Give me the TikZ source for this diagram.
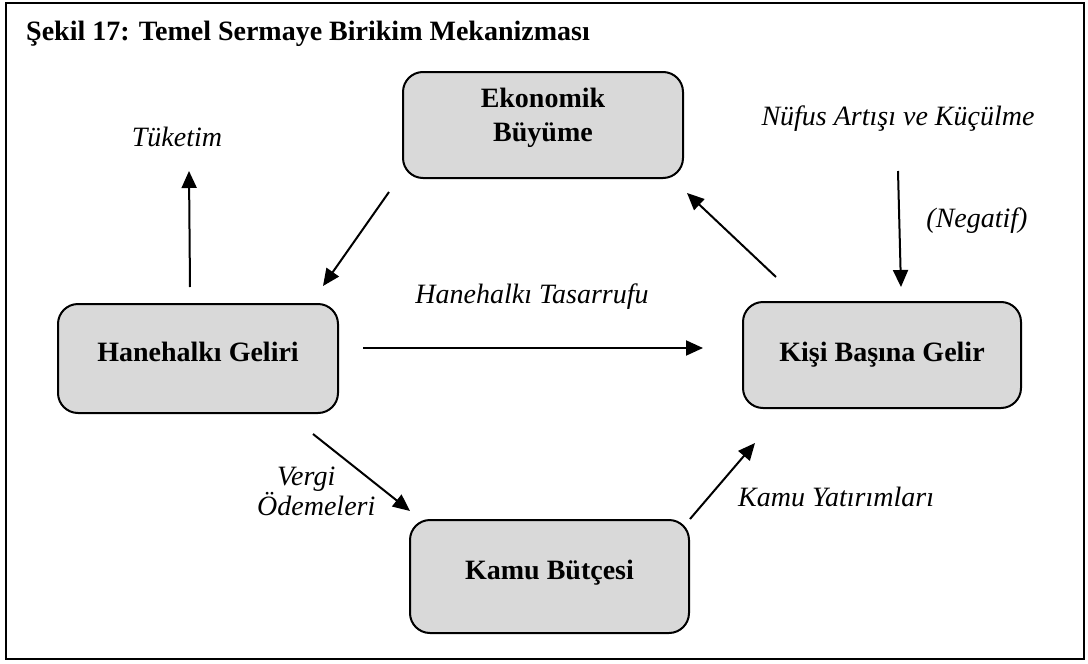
\documentclass[tikz,border=0pt]{standalone}
\usepackage{fontspec}
\setmainfont{Liberation Serif}
\usetikzlibrary{arrows.meta,calc}
\definecolor{boxgray}{HTML}{D9D9D9}
\begin{document}
\begin{tikzpicture}[x=1pt,y=-1pt,
  box/.style={draw=black, line width=2pt, fill=boxgray, rounded corners=20pt,
    inner sep=0pt, align=center, font=\fontsize{28}{34}\selectfont\bfseries},
  lbl/.style={inner sep=0pt, font=\fontsize{28}{28}\selectfont\itshape},
  arr/.style={line width=2pt, -{Triangle[length=17pt,width=15pt]}},
]
\useasboundingbox (0,0) rectangle (1088,664);
\draw[line width=2.5pt] (6,3) rectangle (1084,659);

\node[anchor=base west, inner sep=0pt, font=\fontsize{28}{34}\selectfont\bfseries]
  (title) at (26,40) {Şekil 17: Temel Sermaye Birikim Mekanizması};

% boxes
\node[box, minimum width=280pt, minimum height=106pt] (eb) at (543,125)
  {Ekonomik\\Büyüme\rule[-21pt]{0pt}{21pt}};
\node[box, minimum width=280pt, minimum height=109pt, text height=20pt, text depth=15pt]
  (hh) at (198,358.5) {Hanehalkı Geliri};
\node[box, minimum width=278pt, minimum height=106pt, text height=20pt, text depth=8pt]
  (kb) at (882,355) {Kişi Başına Gelir};
\node[box, minimum width=279pt, minimum height=113pt, text height=20pt, text depth=15pt]
  (kp) at (549.5,576.5) {Kamu Bütçesi};

% labels
\node[lbl, anchor=base] (tk) at (177,146) {Tüketim};
\node[lbl, anchor=base] (nf) at (898,125) {Nüfus Artışı ve Küçülme};
\node[lbl, anchor=base] (ng) at (977,227) {(Negatif)};
\node[lbl, anchor=base] (ht) at (532,303) {Hanehalkı Tasarrufu};
\node[lbl, anchor=north west, align=left] (vo) at (257,467) {\hspace*{20pt}Vergi\\Ödemeleri};
\node[lbl, anchor=base west] (ky) at (738,506) {Kamu Yatırımları};

% arrow end points
\coordinate (a1s) at (190,287); \coordinate (a1e) at (189,171);
\coordinate (a2s) at (389,192); \coordinate (a2e) at (323,286);
\coordinate (a3s) at (363,348); \coordinate (a3e) at (703,348);
\coordinate (a4s) at (776,277); \coordinate (a4e) at (687,193);
\coordinate (a5s) at (898,171); \coordinate (a5e) at (901,287);
\coordinate (a6s) at (313,434); \coordinate (a6e) at (410,511);
\coordinate (a7s) at (kp.north east); \coordinate (a7e) at (755,443);

\draw[arr] (a1s) -- (a1e);
\draw[arr] (a2s) -- (a2e);
\draw[arr] (a3s) -- (a3e);
\draw[arr] (a4s) -- (a4e);
\draw[arr] (a5s) -- (a5e);
\draw[arr] (a6s) -- (a6e);
\draw[arr] (a7s) -- (a7e);
\end{tikzpicture}
\end{document}
